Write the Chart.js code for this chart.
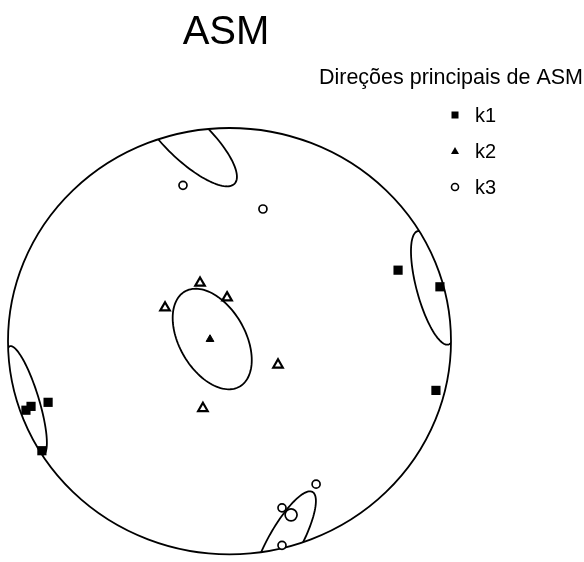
<!DOCTYPE html>
<html>
<head>
<meta charset="utf-8">
<script src="https://cdn.jsdelivr.net/npm/chart.js"></script>
<style>
  html, body { margin: 0; padding: 0; background: #fff; }
</style>
</head>
<body>
<canvas id="asmChart" width="584" height="562"></canvas>
<script>
// principal directions, projected on the net (primitive circle = radius 1)
const k1X = [0.761, 0.950, 0.932, -0.819, -0.919, -0.896, -0.847];
const k1Y = [0.333, 0.255, -0.231, -0.287, -0.324, -0.306, -0.514];

const k2X = [-0.133, -0.011, -0.291, 0.219, -0.120];
const k2Y = [0.273, 0.204, 0.157, -0.111, -0.315];
const k2MeanX = [-0.088];
const k2MeanY = [0.009];

const k3X = [-0.210, 0.151, 0.391, 0.237, 0.237];
const k3Y = [0.731, 0.620, -0.671, -0.782, -0.958];
const k3MeanX = [0.278];
const k3MeanY = [-0.815];

// confidence ellipses: centre, half axes, angle (deg)
const ellipseCX = [-0.078, -0.190, 0.245, -0.916, 0.919];
const ellipseCY = [0.010, 0.950, -0.950, -0.278, 0.250];
const ellipseA = [0.255, 0.300, 0.275, 0.265, 0.275];
const ellipseB = [0.150, 0.100, 0.075, 0.055, 0.074];
const ellipseAngle = [-62, -45, 62, -73.6, -75.4];

const legendLabels = ['k1', 'k2', 'k3'];

const toPoints = (xs, ys) => xs.map((x, i) => ({ x: x, y: ys[i] }));

const stereonet = {
    id: 'stereonet',
    beforeDatasetsDraw(chart) {
        const ctx = chart.ctx;
        const sx = chart.scales.x, sy = chart.scales.y;
        const cx = sx.getPixelForValue(0), cy = sy.getPixelForValue(0);
        const rx = sx.getPixelForValue(1) - cx, ry = cy - sy.getPixelForValue(1);
        ctx.save();
        ctx.strokeStyle = '#000';
        ctx.lineWidth = 1.8;
        ctx.beginPath();
        ctx.ellipse(cx, cy, rx, ry, 0, 0, Math.PI * 2);
        ctx.stroke();
        ctx.clip();
        for (let i = 0; i < ellipseCX.length; i++) {
            const rot = ellipseAngle[i] * Math.PI / 180;
            ctx.beginPath();
            for (let s = 0; s <= 120; s++) {
                const t = s / 120 * Math.PI * 2;
                const ex = ellipseA[i] * Math.cos(t), ey = ellipseB[i] * Math.sin(t);
                const px = sx.getPixelForValue(ellipseCX[i] + ex * Math.cos(rot) - ey * Math.sin(rot));
                const py = sy.getPixelForValue(ellipseCY[i] + ex * Math.sin(rot) + ey * Math.cos(rot));
                if (s === 0) ctx.moveTo(px, py); else ctx.lineTo(px, py);
            }
            ctx.closePath();
            ctx.stroke();
        }
        ctx.restore();
    },
    afterDraw(chart) {
        const ctx = chart.ctx;
        ctx.save();
        ctx.fillStyle = '#000';
        ctx.strokeStyle = '#000';
        ctx.textBaseline = 'alphabetic';
        // title
        ctx.font = '40px "Liberation Sans", Arial, sans-serif';
        ctx.textAlign = 'center';
        ctx.fillText('ASM', 226, 44);
        // legend
        ctx.font = '21.5px "Liberation Sans", Arial, sans-serif';
        ctx.textAlign = 'right';
        ctx.fillText('Direções principais de ASM', 583, 84);
        ctx.textAlign = 'left';
        ctx.font = '20px "Liberation Sans", Arial, sans-serif';
        const rowY = [115, 151, 187];
        const mx = 455;
        legendLabels.forEach((lab, i) => {
            const y = rowY[i];
            ctx.fillText(lab, 475, y + 7);
            ctx.beginPath();
            if (i === 0) {
                ctx.fillRect(mx - 3.5, y - 3.5, 7, 7);
            } else if (i === 1) {
                ctx.moveTo(mx, y - 4);
                ctx.lineTo(mx + 4, y + 3);
                ctx.lineTo(mx - 4, y + 3);
                ctx.closePath();
                ctx.fill();
            } else {
                ctx.lineWidth = 1.6;
                ctx.arc(mx, y, 3.5, 0, Math.PI * 2);
                ctx.stroke();
            }
        });
        ctx.restore();
    }
};

const asmChart = new Chart(document.getElementById('asmChart').getContext('2d'), {
    type: 'scatter',
    data: {
        datasets: [
            {
                label: 'k1',
                data: toPoints(k1X, k1Y),
                pointStyle: 'rect',
                pointRadius: 6.5,
                backgroundColor: '#000',
                borderColor: '#000',
                borderWidth: 0
            },
            {
                label: 'k2',
                data: toPoints(k2X, k2Y),
                pointStyle: 'triangle',
                pointRadius: 5.5,
                backgroundColor: '#fff',
                borderColor: '#000',
                borderWidth: 2.2
            },
            {
                label: 'k2 mean',
                data: toPoints(k2MeanX, k2MeanY),
                pointStyle: 'triangle',
                pointRadius: 4.5,
                backgroundColor: '#000',
                borderColor: '#000',
                borderWidth: 1
            },
            {
                label: 'k3',
                data: toPoints(k3X, k3Y),
                pointStyle: 'circle',
                pointRadius: 4,
                backgroundColor: '#fff',
                borderColor: '#000',
                borderWidth: 1.7
            },
            {
                label: 'k3 mean',
                data: toPoints(k3MeanX, k3MeanY),
                pointStyle: 'circle',
                pointRadius: 6,
                backgroundColor: '#fff',
                borderColor: '#000',
                borderWidth: 1.7
            }
        ]
    },
    options: {
        responsive: false,
        animation: false,
        clip: false,
        layout: { padding: { left: 8, right: 133, top: 128, bottom: 2 } },
        scales: {
            x: { type: 'linear', min: -1, max: 1, display: false },
            y: { type: 'linear', min: -1, max: 1, display: false }
        },
        plugins: {
            legend: { display: false },
            tooltip: { enabled: false }
        }
    },
    plugins: [stereonet]
});
</script>
</body>
</html>
